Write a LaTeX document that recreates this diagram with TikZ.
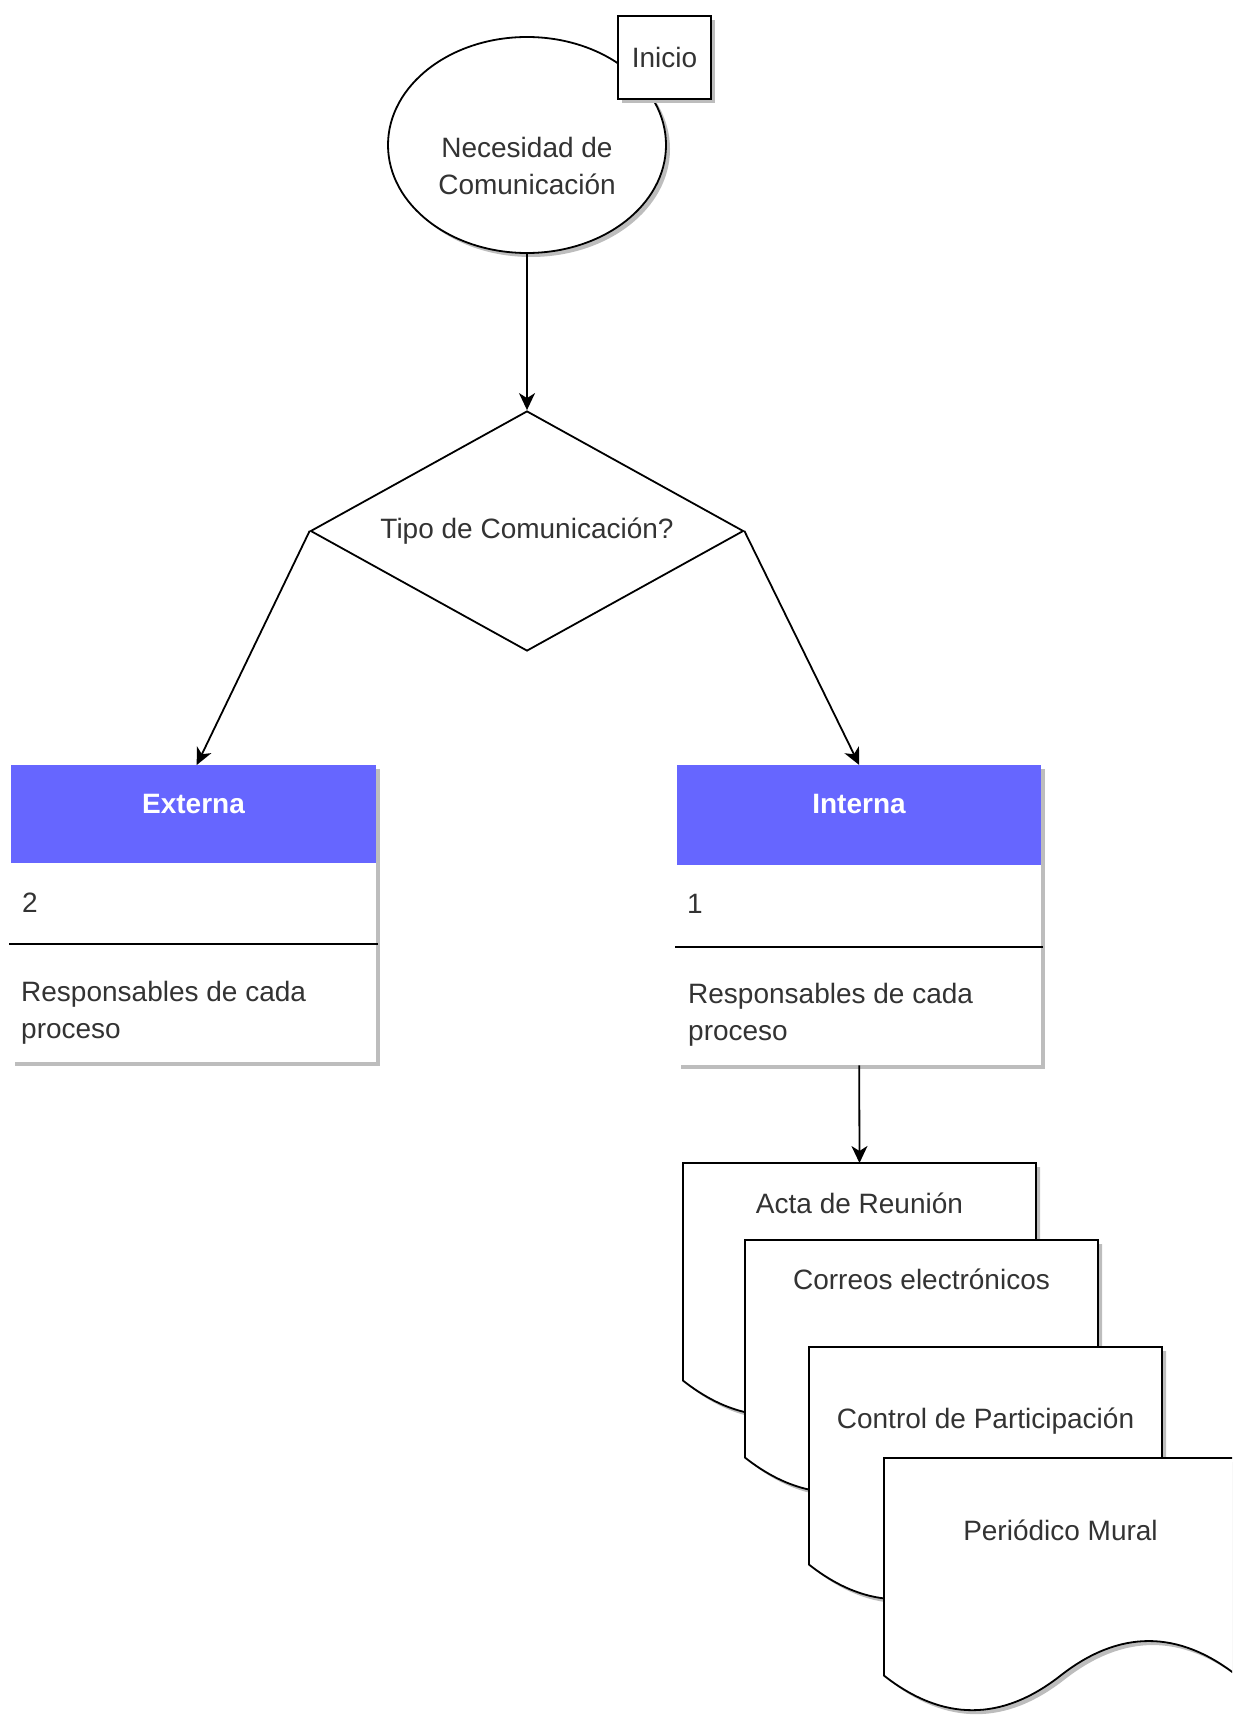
\documentclass[tikz,border=0pt]{standalone}
\usepackage{fontspec}
\setmainfont{Liberation Sans}
\usetikzlibrary{shapes.geometric,arrows.meta,shadows}

\definecolor{inkgray}{HTML}{333333}
\definecolor{headblue}{HTML}{6666FF}
\definecolor{shadegray}{HTML}{BDBDBD}

\tikzset{
  txt/.style={text=inkgray, font=\fontsize{28}{37}\selectfont, inner sep=0pt},
  headtxt/.style={text=white, font=\fontsize{28}{37}\selectfont\bfseries, inner sep=0pt},
  softshadow/.style={drop shadow={shadow xshift=4pt, shadow yshift=-4pt, fill=shadegray, opacity=1}},
  outline/.style={draw=black, line width=1.8pt, fill=white},
  conn/.style={line width=1.8pt, -{Stealth[length=17pt, width=16pt, inset=5pt]}},
  rule/.style={line width=1.8pt},
}

% document sheet with a wavy lower edge: name, left x, top y, label, label baseline
\newcommand\docsheet[5]{%
  \begin{scope}[shift={(#2,#3)}]
    \path[outline, softshadow] (0,0) -- (353,0) -- (353,217.6)
      .. controls (294.2,171.5) and (235.3,171.5) .. (176.5,217.6)
      .. controls (117.7,263.7) and (58.8,263.7) .. (0,217.6) -- cycle;
    \coordinate (#1top) at (176.5,0);
    \node[txt, anchor=base] (#1) at (176.5,#5) {#4};
  \end{scope}}

\begin{document}
\begin{tikzpicture}[x=1pt, y=-1pt]
  \path[use as bounding box] (0,0) rectangle (1232,1720);
  \clip (0,0) rectangle (1232,1720);

  % start event
  \node[outline, softshadow, ellipse, minimum width=278pt, minimum height=216pt, inner sep=0pt] (need) at (527,145) {};
  \node[txt, align=center] (needtxt) at ([yshift=-21pt]need.center) {Necesidad de\\Comunicación};
  \node[outline, softshadow, txt, minimum width=93pt, minimum height=83pt] (inicio) at (664.5,57.5) {Inicio};

  % decision
  \node[outline, txt, diamond, aspect=1.8, inner sep=1pt, minimum width=433pt, minimum height=240pt] (tipo) at (527,531) {Tipo de Comunicación?};

  % external communication table
  \node[fill=white, softshadow, minimum width=365pt, minimum height=297pt, inner sep=0pt, anchor=north west] (extbody) at (11,765) {};
  \node[fill=headblue, minimum width=365pt, minimum height=98pt, inner sep=0pt, anchor=north west] (exthead) at (11,765) {};
  \node[headtxt, anchor=base] (extname) at (193.5,813) {Externa};
  \node[txt, anchor=base west] (extnum) at (22,912) {2};
  \draw[rule] (9,944) -- (378,944);
  \node[txt, anchor=west, align=left] (extresp) at (21,1012.5) {Responsables de cada\\proceso};

  % internal communication table
  \node[fill=white, softshadow, minimum width=364pt, minimum height=300pt, inner sep=0pt, anchor=north west] (intbody) at (677,765) {};
  \node[fill=headblue, minimum width=364pt, minimum height=100pt, inner sep=0pt, anchor=north west] (inthead) at (677,765) {};
  \node[headtxt, anchor=base] (intname) at (859,813) {Interna};
  \node[txt, anchor=base west] (intnum) at (687,913) {1};
  \draw[rule] (675,947) -- (1043,947);
  \node[txt, anchor=west, align=left] (intresp) at (688,1014.3) {Responsables de cada\\proceso};

  % stacked documents
  \docsheet{acta}{683}{1163}{Acta de Reunión}{50}
  \docsheet{correos}{745}{1240}{Correos electrónicos}{49}
  \docsheet{control}{809}{1347}{Control de Participación}{81}
  \docsheet{mural}{884}{1458}{Periódico Mural}{82}

  % connectors
  \draw[conn] (need.south) -- (tipo.north);
  \draw[conn] (tipo.west) -- ([xshift=3pt]exthead.north);
  \draw[conn] (tipo.east) -- (inthead.north);
  \draw[conn] (intbody.south) -- (actatop);
\end{tikzpicture}
\end{document}
